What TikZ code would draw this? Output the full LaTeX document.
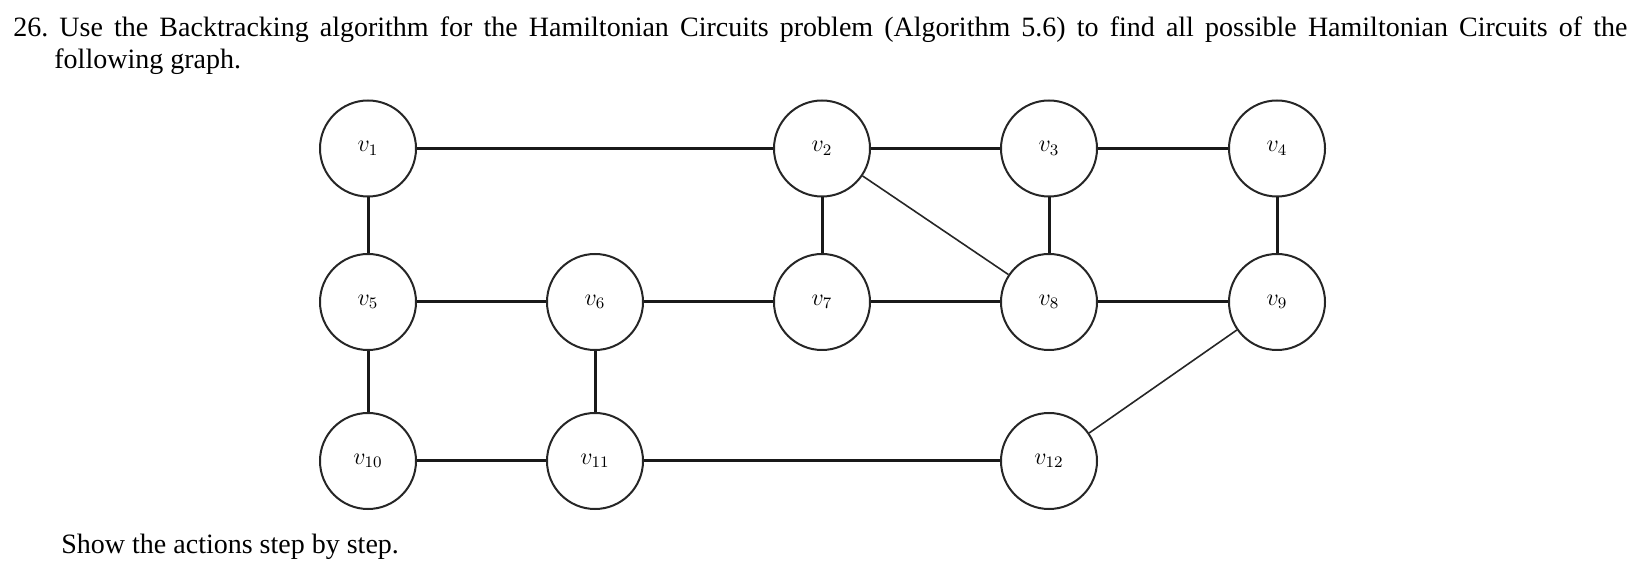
\documentclass[tikz,border=0pt]{standalone}
\usepackage{fontspec}
\setmainfont{Liberation Serif}
\begin{document}
\frenchspacing
\begin{tikzpicture}[x=0.5pt,y=-0.5pt,
  vtx/.style={circle,draw=black!85,line width=1pt,minimum size=48pt,inner sep=0pt,font=\fontsize{12}{14}\selectfont},
  edge/.style={line width=1.5pt,black!90},
  thin edge/.style={line width=0.8pt,black!85},
  txt/.style={anchor=base west,inner sep=0pt,font=\fontsize{14}{17}\selectfont}]
\useasboundingbox (0,0) rectangle (1639,571);
\node[txt] (l1) at (13,36.5) {\makebox[807pt][s]{26. Use the Backtracking algorithm for the Hamiltonian Circuits problem (Algorithm 5.6) to find all possible Hamiltonian Circuits of the}};
\node[txt] (l2) at (54,69) {following graph.};
\node[txt] (l3) at (61,553) {Show the actions step by step.};
\node[vtx] (v1) at (368,148.5) {$v_{1}$};
\node[vtx] (v2) at (822,148.5) {$v_{2}$};
\node[vtx] (v3) at (1049,148.5) {$v_{3}$};
\node[vtx] (v4) at (1277,148.5) {$v_{4}$};
\node[vtx] (v5) at (368,302) {$v_{5}$};
\node[vtx] (v6) at (595,302) {$v_{6}$};
\node[vtx] (v7) at (822,302) {$v_{7}$};
\node[vtx] (v8) at (1049,302) {$v_{8}$};
\node[vtx] (v9) at (1277,302) {$v_{9}$};
\node[vtx] (v10) at (368,461) {$v_{10}$};
\node[vtx] (v11) at (595,461) {$v_{11}$};
\node[vtx] (v12) at (1049,461) {$v_{12}$};
\draw[edge] (v1) -- (v2);
\draw[edge] (v2) -- (v3);
\draw[edge] (v3) -- (v4);
\draw[edge] (v1) -- (v5);
\draw[edge] (v2) -- (v7);
\draw[edge] (v3) -- (v8);
\draw[edge] (v4) -- (v9);
\draw[edge] (v5) -- (v6);
\draw[edge] (v6) -- (v7);
\draw[edge] (v7) -- (v8);
\draw[edge] (v8) -- (v9);
\draw[edge] (v5) -- (v10);
\draw[edge] (v6) -- (v11);
\draw[edge] (v10) -- (v11);
\draw[edge] (v11) -- (v12);
\draw[thin edge] (v2) -- (v8);
\draw[thin edge] (v9) -- (v12);
\end{tikzpicture}
\end{document}
